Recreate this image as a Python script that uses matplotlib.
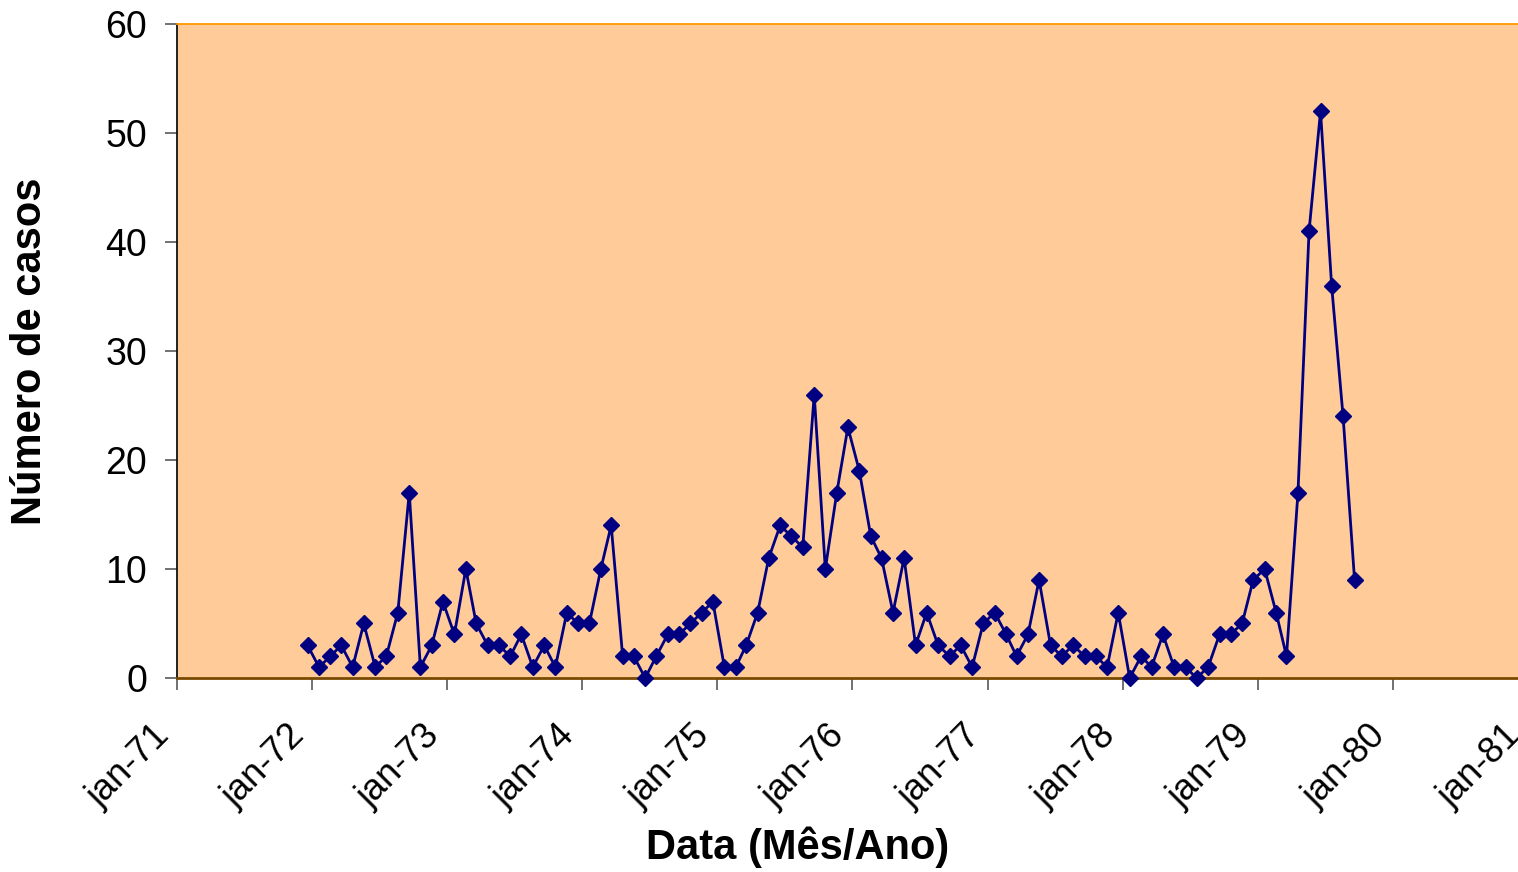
import matplotlib
matplotlib.use("Agg")
import matplotlib.pyplot as plt
from matplotlib.transforms import ScaledTranslation
import pandas as pd

# monthly case counts, Dec 1971 .. Sep 1979
primeiro_mes = "1971-12"
casos = [
    3,
    1, 2, 3, 1, 5, 1, 2, 6, 17, 1, 3, 7,        # 1972
    4, 10, 5, 3, 3, 2, 4, 1, 3, 1, 6, 5,        # 1973
    5, 10, 14, 2, 2, 0, 2, 4, 4, 5, 6, 7,       # 1974
    1, 1, 3, 6, 11, 14, 13, 12, 26, 10, 17, 23, # 1975
    19, 13, 11, 6, 11, 3, 6, 3, 2, 3, 1, 5,     # 1976
    6, 4, 2, 4, 9, 3, 2, 3, 2, 2, 1, 6,         # 1977
    0, 2, 1, 4, 1, 1, 0, 1, 4, 4, 5, 9,         # 1978
    10, 6, 2, 17, 41, 52, 36, 24, 9,            # 1979
]
anos_ticks = list(range(1971, 1982))
y_ticks = [0, 10, 20, 30, 40, 50, 60]

datas = pd.date_range(primeiro_mes, periods=len(casos), freq="MS") + pd.Timedelta(days=19)

FONT = "Liberation Sans"
BG_PLOT = "#FFCC99"
NAVY = "#000080"

fig = plt.figure(figsize=(15.18, 8.72), dpi=100)
fig.patch.set_facecolor("white")
# plot area: x 177..1528 px (jan-81 sits just past the right edge), y 24..678 px
ax = fig.add_axes([177 / 1518, 1 - 678 / 872, (1528 - 177) / 1518, (678 - 24) / 872])
ax.set_facecolor(BG_PLOT)

ax.plot(datas, casos, color=NAVY, linewidth=2, marker="D", markersize=8.5,
        markerfacecolor=NAVY, markeredgecolor=NAVY, zorder=3, clip_on=False)

ticks = [pd.Timestamp(f"{a}-01-01") for a in anos_ticks]
ax.set_xlim(ticks[0], ticks[-1])
ax.set_xticks(ticks)
ax.set_xticklabels([f"jan-{a % 100:02d}" for a in anos_ticks],
                   rotation=45, ha="right", va="top",
                   fontsize=26, family=FONT)
shift = ScaledTranslation(-0.16, 0, fig.dpi_scale_trans)
for lab in ax.get_xticklabels():
    lab.set_transform(lab.get_transform() + shift)

ax.set_ylim(0, 60)
ax.set_yticks(y_ticks)
ax.set_yticklabels([str(v) for v in y_ticks], fontsize=27, family=FONT)

ax.tick_params(axis="both", direction="out", length=8.6, width=1.3, color="#666666")
ax.tick_params(axis="x", pad=20)
ax.tick_params(axis="y", pad=13)

for s in ["top", "right"]:
    ax.spines[s].set_color("#FF9900")
    ax.spines[s].set_linewidth(1.3)
ax.spines["left"].set_color("#111111")
ax.spines["bottom"].set_color("#7A4A00")
ax.spines["left"].set_linewidth(1.3)
ax.spines["bottom"].set_linewidth(2)

ax.set_xlabel("Data (Mês/Ano)", fontsize=30, fontweight="bold", family=FONT)
ax.xaxis.set_label_coords((798 - 177) / 1351, (678 - 826) / 654)
ax.set_ylabel("Número de casos", fontsize=30, fontweight="bold", family=FONT)
ax.yaxis.set_label_coords((50 - 177) / 1351, 0.5)

fig.savefig("out.png", dpi=100, facecolor="white")
